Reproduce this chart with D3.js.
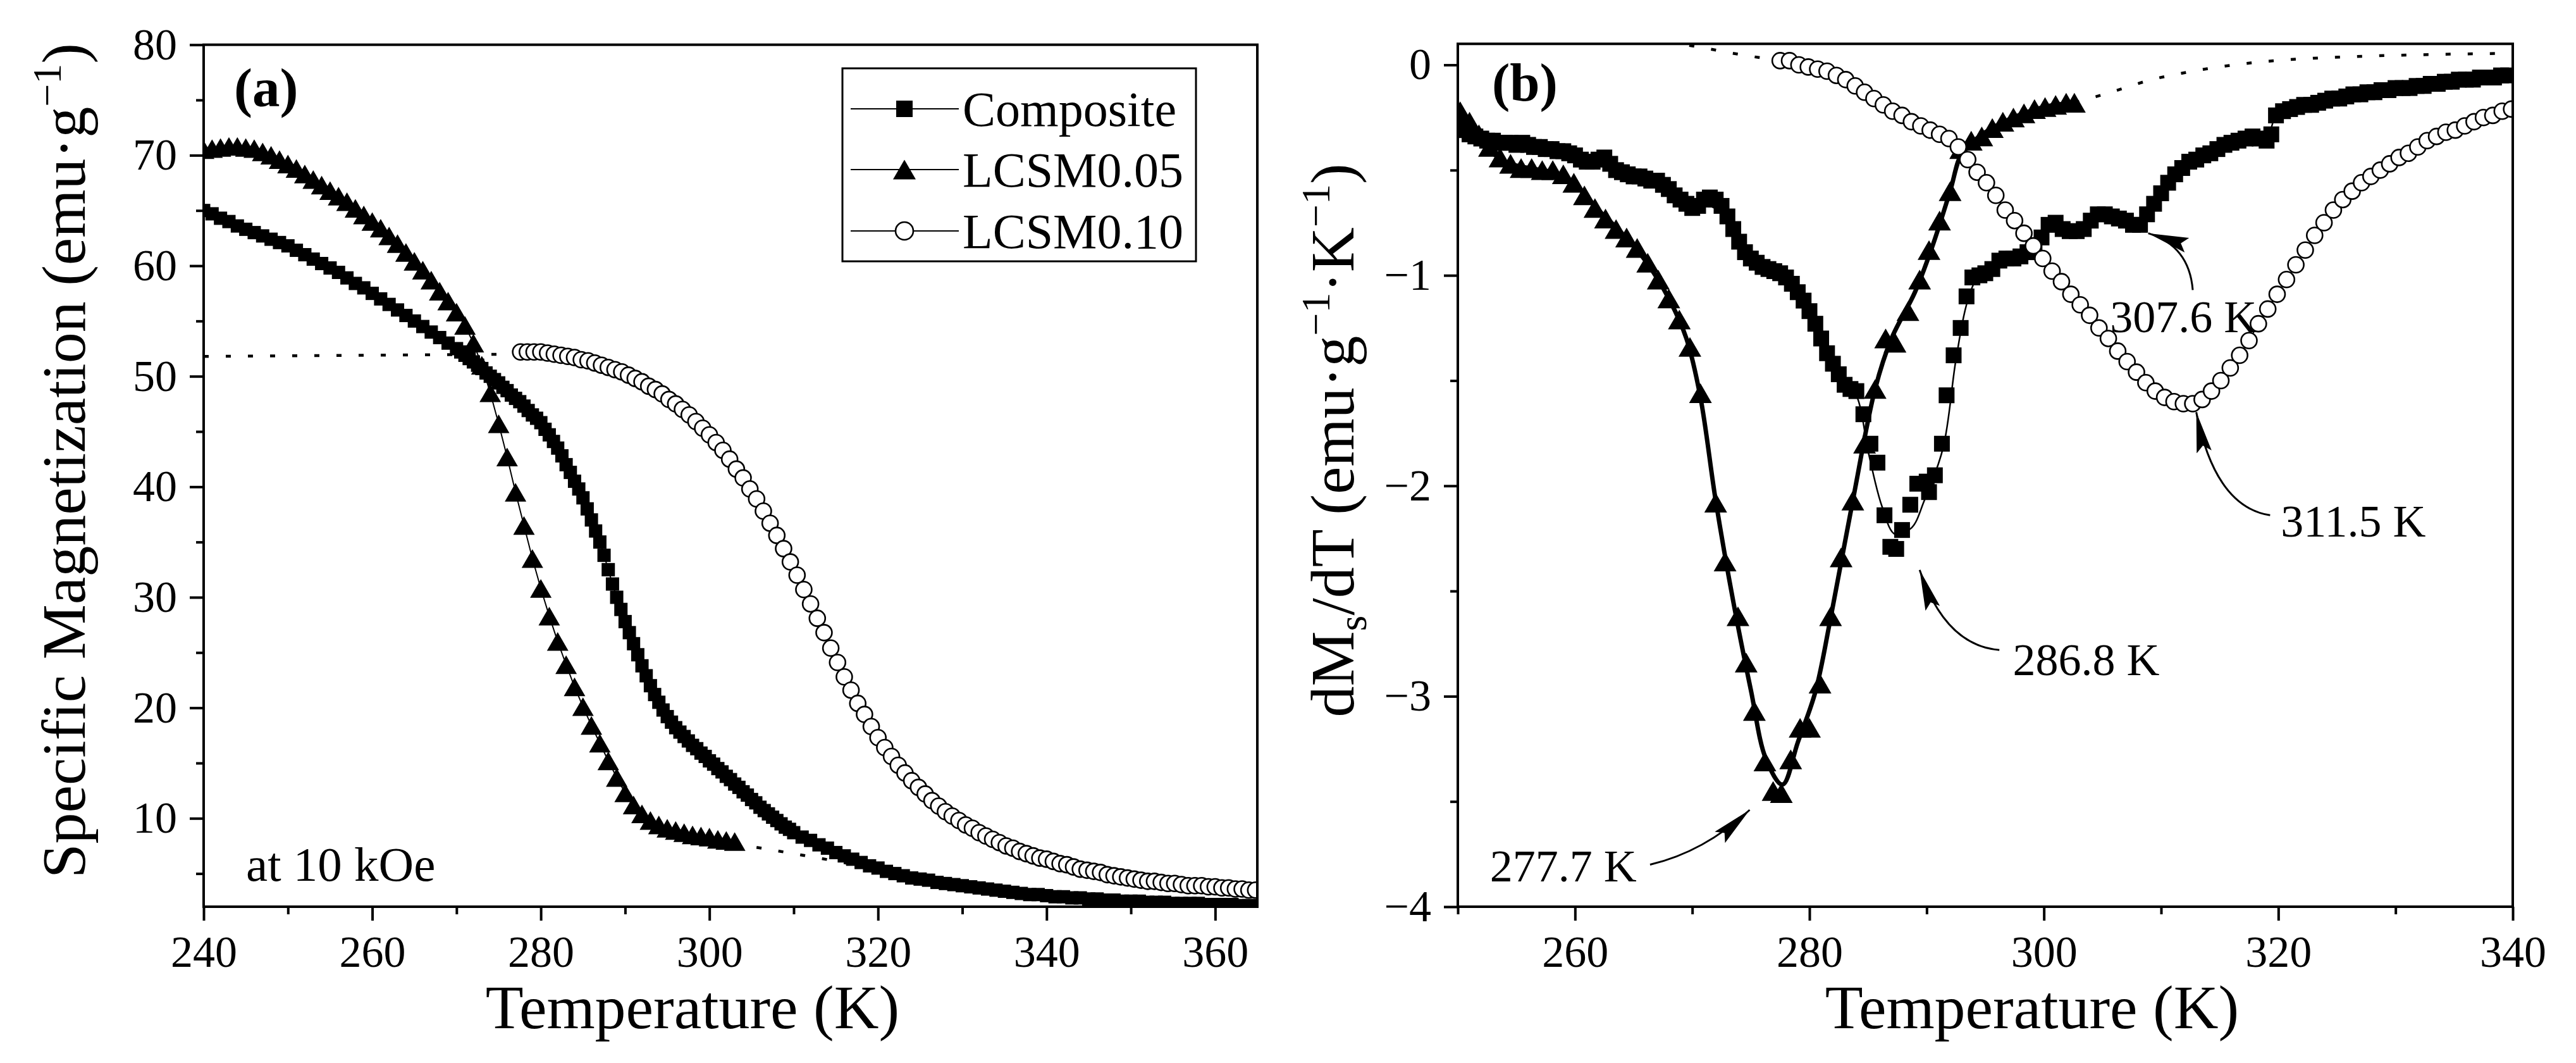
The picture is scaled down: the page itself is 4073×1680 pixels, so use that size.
<!DOCTYPE html>
<html><head><meta charset="utf-8">
<script src="https://cdn.jsdelivr.net/npm/d3@7"></script>
<style>
html,body{margin:0;padding:0;background:#fff;}
svg{display:block;}
text{font-family:"Liberation Serif","Times New Roman",serif;fill:#000;}
</style></head><body>
<svg id="chart" width="4073" height="1680"></svg>
<script>
// ---------------- DATA ----------------
// Panel (a): specific magnetization vs temperature  [T (K), M (emu/g)]
const compositeA = [[240,65.0],[241,64.7],[242,64.3],[243,64.0],[244,63.6],[245,63.3],[246,63.0],[247,62.7],[248,62.4],[249,62.1],[250,61.8],[251,61.4],[252,61.0],[253,60.6],[254,60.2],[255,59.8],[256,59.4],[257,58.9],[258,58.4],[259,58.0],[260,57.5],[261,57.0],[262,56.5],[263,56.0],[264,55.5],[265,55.0],[266,54.5],[267,54.0],[268,53.5],[269,53.0],[270,52.5],[270.5,52.2],[271,51.9],[271.5,51.6],[272,51.3],[272.5,51.0],[273,50.7],[273.5,50.3],[274,50.0],[274.5,49.7],[275,49.4],[275.5,49.0],[276,48.7],[276.5,48.3],[277,48.0],[277.5,47.7],[278,47.3],[278.5,46.9],[279,46.5],[279.5,46.2],[280,45.8],[280.5,45.2],[281,44.7],[281.5,44.1],[282,43.5],[282.5,42.8],[283,42.0],[283.5,41.3],[284,40.5],[284.5,39.8],[285,39.0],[285.5,38.0],[286,37.0],[286.5,36.0],[287,35.0],[287.5,33.8],[288,32.5],[288.5,31.2],[289,30.0],[289.5,28.9],[290,27.8],[290.5,26.8],[291,25.8],[291.5,24.8],[292,23.8],[292.5,22.9],[293,22.0],[293.5,21.2],[294,20.5],[294.5,19.8],[295,19.2],[295.5,18.7],[296,18.2],[296.5,17.8],[297,17.4],[297.5,17.0],[298,16.6],[298.5,16.3],[299,15.9],[299.5,15.6],[300,15.2],[300.5,14.9],[301,14.5],[301.5,14.2],[302,13.8],[302.5,13.5],[303,13.1],[303.5,12.8],[304,12.4],[304.5,12.1],[305,11.7],[305.5,11.4],[306,11.0],[306.5,10.7],[307,10.4],[307.5,10.1],[308,9.8],[308.5,9.5],[309,9.2],[309.5,9.0],[310,8.7],[311,8.3],[312,8.0],[313,7.6],[314,7.3],[315,6.9],[316,6.6],[317,6.3],[318,6.0],[319,5.7],[320,5.5],[321,5.2],[322,5.0],[323,4.8],[324,4.6],[325,4.5],[326,4.4],[327,4.2],[328,4.1],[329,4.0],[330,3.9],[331,3.8],[332,3.7],[333,3.6],[334,3.5],[335,3.4],[336,3.3],[337,3.2],[338,3.1],[339,3.1],[340,3.0],[341,2.9],[342,2.9],[343,2.8],[344,2.8],[345,2.7],[346,2.7],[347,2.6],[348,2.6],[349,2.5],[350,2.5],[351,2.5],[352,2.4],[353,2.4],[354,2.4],[355,2.3],[356,2.3],[357,2.3],[358,2.3],[359,2.2],[360,2.2],[361,2.2],[362,2.2],[363,2.1],[364,2.1],[365,2.1]];

const lcsm05A = [[240,70.5],[241,70.6],[242,70.7],[243,70.8],[244,70.8],[245,70.7],[246,70.6],[247,70.3],[248,70.0],[249,69.6],[250,69.2],[251,68.8],[252,68.3],[253,67.8],[254,67.3],[255,66.8],[256,66.3],[257,65.8],[258,65.2],[259,64.6],[260,64.0],[261,63.4],[262,62.7],[263,62.0],[264,61.2],[265,60.4],[266,59.6],[267,58.7],[268,57.7],[269,56.8],[270,55.8],[271,54.6],[272,53.0],[273,51.0],[274,48.5],[275,45.7],[276,42.7],[277,39.5],[278,36.5],[279,33.5],[280,30.8],[281,28.3],[282,26.0],[283,23.9],[284,21.9],[285,20.1],[286,18.4],[287,16.8],[288,15.2],[289,13.7],[290,12.3],[291,11.2],[292,10.4],[293,9.8],[294,9.4],[295,9.1],[296,8.9],[297,8.7],[298,8.5],[299,8.4],[300,8.3],[301,8.1],[302,8.0],[303,7.9]];

const lcsm10A = [[277.6,52.2],[278.4,52.2],[279.2,52.2],[280.0,52.2],[280.8,52.1],[281.6,52.0],[282.4,51.9],[283.2,51.8],[284.0,51.7],[284.8,51.5],[285.6,51.4],[286.4,51.2],[287.2,51.0],[288.0,50.8],[288.8,50.6],[289.6,50.4],[290.4,50.1],[291.2,49.8],[292.0,49.5],[292.8,49.1],[293.6,48.8],[294.4,48.4],[295.2,47.9],[296.0,47.5],[296.8,47.0],[297.6,46.5],[298.4,45.9],[299.2,45.3],[300.0,44.7],[300.8,44.0],[301.6,43.3],[302.4,42.5],[303.2,41.6],[304.0,40.8],[304.8,39.8],[305.6,38.9],[306.4,37.8],[307.2,36.7],[308.0,35.6],[308.8,34.4],[309.6,33.2],[310.4,32.0],[311.2,30.7],[312.0,29.4],[312.8,28.1],[313.6,26.8],[314.4,25.4],[315.2,24.1],[316.0,22.8],[316.8,21.6],[317.6,20.4],[318.4,19.4],[319.2,18.3],[320.0,17.3],[320.8,16.4],[321.6,15.6],[322.4,14.8],[323.2,14.1],[324.0,13.4],[324.8,12.8],[325.6,12.2],[326.4,11.6],[327.2,11.1],[328.0,10.6],[328.8,10.2],[329.6,9.8],[330.4,9.4],[331.2,9.1],[332.0,8.7],[332.8,8.4],[333.6,8.1],[334.4,7.8],[335.2,7.5],[336.0,7.3],[336.8,7.0],[337.6,6.8],[338.4,6.6],[339.2,6.4],[340.0,6.3],[340.8,6.1],[341.6,5.9],[342.4,5.8],[343.2,5.6],[344.0,5.4],[344.8,5.3],[345.6,5.2],[346.4,5.1],[347.2,4.9],[348.0,4.8],[348.8,4.7],[349.6,4.6],[350.4,4.5],[351.2,4.4],[352.0,4.3],[352.8,4.3],[353.6,4.2],[354.4,4.1],[355.2,4.1],[356.0,4.0],[356.8,3.9],[357.6,3.9],[358.4,3.9],[359.2,3.8],[360.0,3.8],[360.8,3.7],[361.6,3.7],[362.4,3.6],[363.2,3.6],[364.0,3.5],[364.8,3.5]];

// dotted guide lines in (a)
const dottedA1 = [[240,51.8],[277.6,52.0]];
const dottedA2 = [[303,7.7],[313,6.4],[323,5.0],[330,4.1]];

// Panel (b): dMs/dT vs temperature  [T (K), dM/dT]
const compositeB = [[250.0,-0.30],[250.5,-0.31],[251.0,-0.33],[251.5,-0.34],[252.0,-0.35],[252.5,-0.36],[253.0,-0.36],[253.5,-0.37],[254.0,-0.37],[254.5,-0.37],[255.0,-0.38],[255.5,-0.37],[256.0,-0.38],[256.5,-0.39],[257.0,-0.39],[257.5,-0.40],[258.0,-0.40],[258.5,-0.41],[259.0,-0.41],[259.5,-0.42],[260.0,-0.43],[260.5,-0.45],[261.0,-0.46],[261.5,-0.46],[262.0,-0.45],[262.5,-0.44],[263.0,-0.47],[263.5,-0.50],[264.0,-0.51],[264.5,-0.52],[265.0,-0.53],[265.5,-0.53],[266.0,-0.54],[266.5,-0.55],[267.0,-0.55],[267.5,-0.57],[268.0,-0.59],[268.5,-0.62],[269.0,-0.64],[269.5,-0.66],[270.0,-0.68],[270.5,-0.67],[271.0,-0.64],[271.5,-0.63],[272.0,-0.64],[272.5,-0.67],[273.0,-0.72],[273.5,-0.78],[274.0,-0.84],[274.5,-0.89],[275.0,-0.92],[275.5,-0.94],[276.0,-0.96],[276.5,-0.97],[277.0,-0.98],[277.5,-0.99],[278.0,-1.01],[278.5,-1.04],[279.0,-1.08],[279.5,-1.12],[280.0,-1.17],[280.5,-1.23],[281.0,-1.30],[281.5,-1.37],[282.0,-1.42],[282.5,-1.47],[283.0,-1.52],[283.5,-1.54],[284.0,-1.55],[284.6,-1.66],[285.2,-1.80],[285.8,-1.89],[286.4,-2.14],[286.9,-2.29],[287.4,-2.30],[287.9,-2.21],[288.6,-2.09],[289.2,-1.99],[290.0,-1.98],[290.2,-2.03],[290.7,-1.95],[291.3,-1.80],[291.7,-1.57],[292.3,-1.38],[292.9,-1.25],[293.4,-1.10],[293.9,-1.01],[294.5,-1.00],[295.0,-0.99],[295.6,-0.97],[296.2,-0.93],[296.8,-0.92],[297.4,-0.92],[298.0,-0.91],[298.6,-0.89],[299.2,-0.86],[299.8,-0.82],[300.4,-0.76],[301.0,-0.75],[301.6,-0.78],[302.2,-0.79],[302.8,-0.79],[303.4,-0.78],[304.0,-0.74],[304.6,-0.71],[305.2,-0.71],[305.8,-0.72],[306.4,-0.73],[307.0,-0.74],[307.6,-0.76],[308.2,-0.76],[308.8,-0.71],[309.4,-0.66],[310.0,-0.61],[310.6,-0.56],[311.2,-0.52],[311.8,-0.49],[312.4,-0.46],[313.0,-0.45],[313.6,-0.43],[314.2,-0.42],[314.8,-0.40],[315.4,-0.38],[316.0,-0.37],[316.6,-0.36],[317.2,-0.35],[317.8,-0.34],[318.4,-0.35],[319.0,-0.36],[319.4,-0.33],[319.8,-0.24],[320.4,-0.22],[321.0,-0.21],[321.6,-0.20],[322.2,-0.19],[322.8,-0.19],[323.4,-0.18],[324.0,-0.17],[324.6,-0.16],[325.2,-0.16],[325.8,-0.15],[326.4,-0.14],[327.0,-0.14],[327.6,-0.13],[328.2,-0.13],[328.8,-0.12],[329.4,-0.12],[330.0,-0.11],[330.6,-0.11],[331.2,-0.11],[331.8,-0.10],[332.4,-0.10],[333.0,-0.09],[333.6,-0.09],[334.2,-0.08],[334.8,-0.08],[335.4,-0.07],[336.0,-0.07],[336.6,-0.07],[337.2,-0.06],[337.8,-0.06],[338.4,-0.06],[339.0,-0.05],[339.6,-0.05]];

const compositeFitB = [[250,-0.30],[255,-0.37],[260,-0.42],[263,-0.48],[266,-0.54],[269,-0.64],[271,-0.66],[273,-0.72],[275,-0.90],[277,-0.98],[279,-1.08],[281,-1.30],[283,-1.50],[284,-1.57],[285.1,-1.86],[286.2,-2.10],[287.3,-2.23],[288.7,-2.20],[289.8,-2.07],[291.4,-1.82],[292.5,-1.40],[293.5,-1.12],[294.5,-1.00],[297,-0.92],[299.5,-0.84],[301,-0.77],[303,-0.78],[305,-0.72],[307.6,-0.75],[309,-0.70],[311,-0.53],[314,-0.42],[317,-0.35],[319,-0.34],[320,-0.23],[325,-0.16],[330,-0.11],[335,-0.08],[340,-0.04]];

const lcsm05B = [[250.2,-0.22],[251.0,-0.27],[251.8,-0.33],[252.7,-0.39],[253.6,-0.44],[254.5,-0.47],[255.4,-0.49],[256.3,-0.49],[257.2,-0.50],[258.1,-0.50],[259.0,-0.52],[259.9,-0.56],[260.8,-0.62],[261.7,-0.68],[262.6,-0.73],[263.5,-0.78],[264.4,-0.82],[265.3,-0.87],[266.2,-0.94],[267.1,-1.02],[268.0,-1.11],[268.9,-1.21],[269.8,-1.34],[270.7,-1.56],[272.0,-2.08],[272.8,-2.36],[273.9,-2.62],[274.6,-2.84],[275.3,-3.07],[276.2,-3.31],[276.9,-3.45],[277.6,-3.46],[278.4,-3.30],[279.2,-3.15],[280.0,-3.15],[280.9,-2.94],[281.8,-2.62],[282.7,-2.34],[283.7,-2.07],[284.7,-1.80],[285.6,-1.54],[286.5,-1.30],[287.3,-1.32],[288.4,-1.17],[289.4,-1.02],[290.2,-0.88],[291.1,-0.74],[292.0,-0.60],[292.9,-0.40],[293.8,-0.36],[294.7,-0.34],[295.6,-0.30],[296.5,-0.27],[297.4,-0.25],[298.3,-0.23],[299.2,-0.21],[300.1,-0.20],[301.0,-0.19],[301.9,-0.18],[302.6,-0.18]];

const lcsm05FitB = [[250,-0.25],[252,-0.37],[254,-0.46],[256,-0.49],[258,-0.51],[260,-0.57],[262,-0.69],[264,-0.80],[266,-0.93],[268,-1.11],[269.5,-1.30],[270.7,-1.58],[272,-2.07],[273.5,-2.55],[275,-2.97],[276.3,-3.30],[277.7,-3.42],[279,-3.22],[280.5,-2.98],[281.8,-2.63],[283.7,-2.07],[285.6,-1.54],[287,-1.30],[289,-1.08],[290.5,-0.86],[292,-0.60],[293,-0.42],[294.5,-0.34],[297,-0.26],[300,-0.20],[302.6,-0.18]];

const lcsm10B = [[277.5,0.02],[278.3,0.02],[279.1,0.00],[279.9,-0.01],[280.7,-0.02],[281.5,-0.03],[282.3,-0.05],[283.1,-0.07],[283.9,-0.10],[284.7,-0.13],[285.5,-0.16],[286.3,-0.19],[287.1,-0.22],[287.9,-0.24],[288.7,-0.27],[289.5,-0.29],[290.3,-0.31],[291.1,-0.33],[291.9,-0.35],[292.7,-0.39],[293.5,-0.45],[294.3,-0.51],[295.1,-0.56],[295.9,-0.62],[296.7,-0.69],[297.5,-0.74],[298.3,-0.80],[299.1,-0.86],[299.9,-0.92],[300.7,-0.98],[301.5,-1.03],[302.3,-1.09],[303.1,-1.14],[303.9,-1.19],[304.7,-1.25],[305.5,-1.30],[306.3,-1.36],[307.1,-1.41],[307.9,-1.46],[308.7,-1.51],[309.5,-1.55],[310.3,-1.58],[311.1,-1.60],[311.9,-1.61],[312.7,-1.61],[313.5,-1.59],[314.3,-1.55],[315.1,-1.50],[315.9,-1.44],[316.7,-1.38],[317.5,-1.31],[318.3,-1.23],[319.1,-1.16],[319.9,-1.09],[320.7,-1.02],[321.5,-0.95],[322.3,-0.88],[323.1,-0.81],[323.9,-0.75],[324.7,-0.69],[325.5,-0.64],[326.3,-0.60],[327.1,-0.56],[327.9,-0.53],[328.7,-0.50],[329.5,-0.47],[330.3,-0.44],[331.1,-0.42],[331.9,-0.39],[332.7,-0.36],[333.5,-0.34],[334.3,-0.32],[335.1,-0.31],[335.9,-0.29],[336.7,-0.27],[337.5,-0.25],[338.3,-0.24],[339.1,-0.22],[339.9,-0.21]];

// dotted guide lines in (b)
const dottedB1 = [[266,0.12],[270,0.09],[274,0.05],[277.5,0.02]];
const dottedB2 = [[302.6,-0.18],[305.7,-0.13],[309.2,-0.07],[312.7,-0.03],[316.2,0.00],[319.7,0.02],[326.7,0.04],[333.7,0.05],[340,0.055]];

// annotations (b): label, text anchor (T,V), arrow tail / control / tip (T,V)
const annotLabels = ["307.6 K","311.5 K","286.8 K","277.7 K"];
const annotText   = [[311.9,-1.27],[326.4,-2.24],[303.6,-2.90],[259.0,-3.88]];
const annotTail   = [[312.7,-1.07],[319.3,-2.14],[296.2,-2.78],[266.4,-3.80]];
const annotCtrl   = [[312.4,-0.86],[314.6,-2.10],[291.6,-2.76],[271.0,-3.74]];
const annotTip    = [[308.9,-0.80],[313.0,-1.65],[289.4,-2.40],[274.9,-3.54]];

// ticks
const xTicksA = [240,260,280,300,320,340,360];
const xMinorA = [250,270,290,310,330,350];
const yTicksA = [10,20,30,40,50,60,70,80];
const yMinorA = [5,15,25,35,45,55,65,75];
const xTicksB = [260,280,300,320,340];
const xMinorB = [250,270,290,310,330];
const yTicksB = [0,-1,-2,-3,-4];
const yMinorB = [-0.5,-1.5,-2.5,-3.5];

const seriesNames = ["Composite","LCSM0.05","LCSM0.10"];

// ---------------- DRAW ----------------
const svg = d3.select('#chart');
const FONT = '"Liberation Serif","Times New Roman",serif';

function makePanel(id, xDom, yDom, L, R, T, B){
  const x = d3.scaleLinear().domain(xDom).range([L,R]);
  const y = d3.scaleLinear().domain(yDom).range([B,T]);
  svg.append('clipPath').attr('id','clip'+id).append('rect')
    .attr('x',L).attr('y',T).attr('width',R-L).attr('height',B-T);
  const g = svg.append('g');
  const data = g.append('g').attr('clip-path',`url(#clip${id})`);
  return {x,y,g,data,L,R,T,B};
}

function axes(p, xMaj, xMin, yMaj, yMin){
  const fmt = d3.format('d');
  const style = sel => {
    sel.attr('font-family',FONT).attr('font-size',70);
    sel.select('.domain').remove();
    sel.selectAll('.tick line').attr('stroke','#000').attr('stroke-width',4);
    sel.selectAll('.tick text').attr('fill','#000');
  };
  p.g.append('g').attr('transform',`translate(0,${p.B})`)
    .call(d3.axisBottom(p.x).tickValues(xMaj).tickSize(22).tickPadding(23).tickFormat(fmt)).call(style);
  p.g.append('g').attr('transform',`translate(0,${p.B})`)
    .call(d3.axisBottom(p.x).tickValues(xMin).tickSize(12).tickFormat(()=>'')).call(style);
  p.g.append('g').attr('transform',`translate(${p.L},0)`)
    .call(d3.axisLeft(p.y).tickValues(yMaj).tickSize(22).tickPadding(20).tickFormat(fmt)).call(style);
  p.g.append('g').attr('transform',`translate(${p.L},0)`)
    .call(d3.axisLeft(p.y).tickValues(yMin).tickSize(12).tickFormat(()=>'')).call(style);
  p.g.append('rect').attr('x',p.L).attr('y',p.T).attr('width',p.R-p.L).attr('height',p.B-p.T)
    .attr('fill','none').attr('stroke','#000').attr('stroke-width',4);
}

function line(p, arr, w, curve, dash){
  const gen = d3.line().x(d=>p.x(d[0])).y(d=>p.y(d[1])).curve(curve||d3.curveLinear);
  const path = p.data.append('path').datum(arr).attr('d',gen)
    .attr('fill','none').attr('stroke','#000').attr('stroke-width',w);
  if(dash) path.attr('stroke-dasharray',dash).attr('stroke-linecap','butt');
  return path;
}
function squares(p, arr, s){
  p.data.append('g').selectAll('rect').data(arr).join('rect')
    .attr('x',d=>p.x(d[0])-s/2).attr('y',d=>p.y(d[1])-s/2)
    .attr('width',s).attr('height',s).attr('fill','#000');
}
function triPath(a){ const h=a*0.866; return `M${-a/2},${h/2}L${a/2},${h/2}L0,${-h/2}Z`; }
function triangles(p, arr, a){
  p.data.append('g').selectAll('path').data(arr).join('path')
    .attr('transform',d=>`translate(${p.x(d[0])},${p.y(d[1])})`)
    .attr('d',triPath(a)).attr('fill','#000');
}
function circles(p, arr, r){
  p.data.append('g').selectAll('circle').data(arr).join('circle')
    .attr('cx',d=>p.x(d[0])).attr('cy',d=>p.y(d[1])).attr('r',r)
    .attr('fill','#fff').attr('stroke','#000').attr('stroke-width',2.6);
}

// ---------- Panel (a) ----------
const pa = makePanel('a',[240,365],[2,80],322,1988,70.7,1433);
line(pa, dottedA1, 4.5, d3.curveLinear, '8,27');
line(pa, dottedA2, 4.5, d3.curveMonotoneX, '8,27');
line(pa, compositeA, 2);
squares(pa, compositeA, 21);
line(pa, lcsm05A, 2);
triangles(pa, lcsm05A, 34);
line(pa, lcsm10A, 2);
circles(pa, lcsm10A, 12.5);
axes(pa, xTicksA, xMinorA, yTicksA, yMinorA);

// (a) label + field text
pa.g.append('text').attr('x',370).attr('y',168).attr('font-size',87).attr('font-weight','bold').text('(a)');
pa.g.append('text').attr('x',389).attr('y',1392).attr('font-size',77).text('at 10 kOe');

// legend
const lg = pa.g.append('g');
lg.append('rect').attr('x',1332).attr('y',108).attr('width',559).attr('height',305)
  .attr('fill','#fff').attr('stroke','#000').attr('stroke-width',3);
const rowsY = [172,268,365];
seriesNames.forEach((name,i)=>{
  const yy = rowsY[i];
  lg.append('line').attr('x1',1345).attr('x2',1516).attr('y1',yy).attr('y2',yy)
    .attr('stroke','#000').attr('stroke-width',2);
  if(i===0) lg.append('rect').attr('x',1430-13).attr('y',yy-13).attr('width',26).attr('height',26).attr('fill','#000');
  if(i===1) lg.append('path').attr('transform',`translate(1430,${yy})`).attr('d',triPath(36)).attr('fill','#000');
  if(i===2) lg.append('circle').attr('cx',1430).attr('cy',yy).attr('r',14).attr('fill','#fff').attr('stroke','#000').attr('stroke-width',2.6);
  lg.append('text').attr('x',1522).attr('y',yy).attr('dy','0.34em').attr('font-size',78).text(name);
});

// axis titles (a)
pa.g.append('text').attr('x',1095).attr('y',1625).attr('text-anchor','middle').attr('font-size',98).text('Temperature (K)');
const yta = pa.g.append('text').attr('transform','translate(134,728) rotate(-90)')
  .attr('text-anchor','middle').attr('font-size',98);
yta.append('tspan').text('Specific Magnetization (emu\u00B7g');
yta.append('tspan').attr('font-size',64).attr('dy',-38).text('\u22121');
yta.append('tspan').attr('dy',38).text(')');

// ---------- Panel (b) ----------
const pb = makePanel('b',[250,340],[-4,0.1],2305,3973,69.3,1433);
line(pb, dottedB1, 4.5, d3.curveMonotoneX, '8,27');
line(pb, dottedB2, 4.5, d3.curveMonotoneX, '8,27');
squares(pb, compositeB, 25);
line(pb, compositeFitB, 2.5, d3.curveCatmullRom);
triangles(pb, lcsm05B, 36);
line(pb, lcsm05FitB, 7, d3.curveCatmullRom);
line(pb, lcsm10B, 2);
circles(pb, lcsm10B, 12.5);
axes(pb, xTicksB, xMinorB, yTicksB, yMinorB);

pb.g.append('text').attr('x',2359).attr('y',159).attr('font-size',85).attr('font-weight','bold').text('(b)');

// arrows
const defs = svg.append('defs');
defs.append('marker').attr('id','ah').attr('markerUnits','userSpaceOnUse')
  .attr('markerWidth',70).attr('markerHeight',30).attr('refX',64).attr('refY',12)
  .attr('orient','auto').append('path').attr('d','M0,0L64,12L0,24L10,12Z').attr('fill','#000');
annotLabels.forEach((lab,i)=>{
  const t0=annotTail[i], c=annotCtrl[i], t1=annotTip[i];
  const p = d3.path();
  p.moveTo(pb.x(t0[0]),pb.y(t0[1]));
  p.quadraticCurveTo(pb.x(c[0]),pb.y(c[1]),pb.x(t1[0]),pb.y(t1[1]));
  pb.g.append('path').attr('d',p.toString()).attr('fill','none').attr('stroke','#000')
    .attr('stroke-width',3).attr('marker-end','url(#ah)');
  pb.g.append('text').attr('x',pb.x(annotText[i][0])).attr('y',pb.y(annotText[i][1]))
    .attr('text-anchor','middle').attr('font-size',72).text(lab);
});

// axis titles (b)
pb.g.append('text').attr('x',3213).attr('y',1625).attr('text-anchor','middle').attr('font-size',98).text('Temperature (K)');
const ytb = pb.g.append('text').attr('transform','translate(2140,696) rotate(-90)')
  .attr('text-anchor','middle').attr('font-size',98);
ytb.append('tspan').text('dM');
ytb.append('tspan').attr('font-size',64).attr('dy',20).text('s');
ytb.append('tspan').attr('dy',-20).text('/dT (emu\u00B7g');
ytb.append('tspan').attr('font-size',64).attr('dy',-38).text('\u22121');
ytb.append('tspan').attr('dy',38).text('\u00B7K');
ytb.append('tspan').attr('font-size',64).attr('dy',-38).text('\u22121');
ytb.append('tspan').attr('dy',38).text(')');
</script>
</body></html>
